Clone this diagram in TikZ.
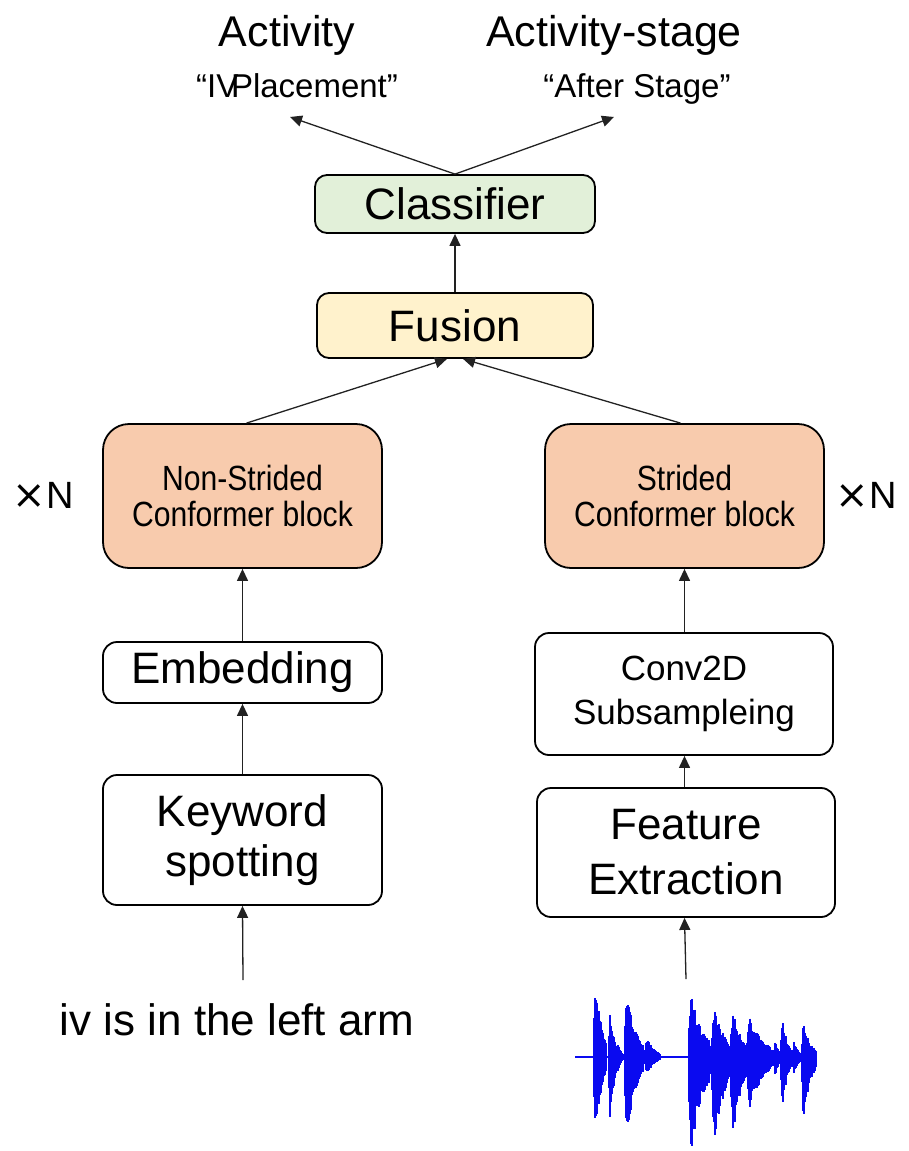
\documentclass[tikz,border=0pt]{standalone}
\usepackage{fontspec}
\setmainfont{Liberation Sans}
\newfontfamily\narrowfont[FakeStretch=0.86]{Liberation Sans}
\newfontfamily\symfont{DejaVu Sans}
\usetikzlibrary{arrows.meta,calc}
\definecolor{clsgreen}{HTML}{E2F0D9}
\definecolor{fusyellow}{HTML}{FFF2CC}
\definecolor{confsalmon}{HTML}{F8CBAD}
\definecolor{arrowgray}{HTML}{222222}
\definecolor{wavecol}{HTML}{0A0AF0}
\tikzset{
  box/.style={draw=black, line width=1.8pt, rounded corners=14pt, inner sep=0pt, align=center},
  bigtext/.style={font=\fontsize{44}{53}\selectfont},
  arr/.style={draw=arrowgray, line width=1.3pt, -{Triangle[length=12pt,width=11pt]}},
  wave/.style={draw=wavecol, line width=1.25pt},
}
\begin{document}
\begin{tikzpicture}[x=1pt,y=-1pt]
\useasboundingbox (0,0) rectangle (908,1151);
% titles
\node[anchor=base, font=\fontsize{43}{48}\selectfont] (act) at (287,46) {Activity};
\node[anchor=base, font=\fontsize{43}{48}\selectfont] (acts) at (614,46) {Activity-stage};
\node[anchor=base, font=\fontsize{33}{38}\selectfont] (q1) at (297,97) {“IV\kern-0.22em Placement”};
\node[anchor=base, font=\fontsize{33}{38}\selectfont] (q2) at (637,97) {“After Stage”};
\coordinate (tip1) at (290,117);
\coordinate (tip2) at (614,117);
% boxes
\node[box, bigtext, fill=clsgreen, rounded corners=12pt, minimum width=280pt, minimum height=58pt] (cls) at (455,204) {Classifier};
\node[box, bigtext, fill=fusyellow, rounded corners=12pt, minimum width=276pt, minimum height=65pt] (fus) at (455,325.5) {Fusion};
\node[box, fill=confsalmon, rounded corners=26pt, minimum width=279pt, minimum height=144pt, font=\narrowfont\fontsize{35}{36}\selectfont] (nsc) at (242.5,496) {Non-Strided\\Conformer block};
\node[box, fill=confsalmon, rounded corners=26pt, minimum width=279pt, minimum height=144pt, font=\narrowfont\fontsize{35}{36}\selectfont] (sc) at (684.5,496) {Strided\\Conformer block};
\node[box, bigtext, minimum width=279pt, minimum height=61pt] (emb) at (242.5,672.5) {Embedding};
\node[box, bigtext, minimum width=279pt, minimum height=130pt, font=\fontsize{44}{50}\selectfont] (kw) at (242.5,840) {Keyword\\spotting};
\node[box, minimum width=298pt, minimum height=122pt, font=\fontsize{35}{44}\selectfont] (conv) at (684,694) {Conv2D\\Subsampleing};
\node[box, minimum width=298pt, minimum height=129pt, font=\fontsize{44}{55}\selectfont] (feat) at (686,852.5) {Feature\\Extraction};
% side labels
\node[anchor=base, font=\fontsize{38}{40}\selectfont, inner sep=0pt] (xn1) at (43,508) {{\symfont\fontsize{40}{40}\selectfont ×}N};
\node[anchor=base, font=\fontsize{38}{40}\selectfont, inner sep=0pt] (xn2) at (866,508) {{\symfont\fontsize{40}{40}\selectfont ×}N};
% input text
\node[anchor=base, font=\fontsize{44}{50}\selectfont] (txt) at (237,1035) {iv is in the left arm};
\coordinate (txtin) at (243,980);
\coordinate (wavein) at (686,979);
% arrows
\draw[arr] (cls.north) -- (tip1);
\draw[arr] (cls.north) -- (tip2);
\draw[arr] (fus.north) -- (cls.south);
\draw[arr] ($(nsc.north)+(4,0)$) -- ($(fus.south)+(-8,0)$);
\draw[arr] ($(sc.north)+(-4,0)$) -- ($(fus.south)+(8,0)$);
\draw[arr] (emb.north) -- (nsc.south);
\draw[arr] (kw.north) -- (emb.south);
\draw[arr] (txtin) -- (kw.south);
\draw[arr] (conv.north -| sc.south) -- (sc.south);
\draw[arr] (feat.north -| sc.south) -- (conv.south -| sc.south);
\draw[arr] (wavein) -- (feat.south -| sc.south);
% waveform
\pgfmathsetseed{7}
\draw[draw=wavecol, line width=1.5pt] (575,1057) -- (815,1057);
\foreach \xa/\at/\ab/\w in {594/100/104/12, 609/62/90/9, 617/20/22/6, 625/78/98/18, 645/24/22/15, 689/75/115/24, 712/62/108/22, 731/58/100/18, 747/48/62/28, 774/22/26/8, 781/48/64/11, 793/22/24/8, 802/42/78/14}{
  \foreach \i in {0,1,...,\w}{
    \pgfmathsetmacro\t{\i/\w}
    \pgfmathsetmacro\e{exp(-1.8*\t)*min(1,6*\t+0.4)*(0.72+0.28*rnd)}
    \draw[wave] (\xa+\i, 1057-\at*\e) -- (\xa+\i, 1057+\ab*\e);
  }
}
\end{tikzpicture}
\end{document}
